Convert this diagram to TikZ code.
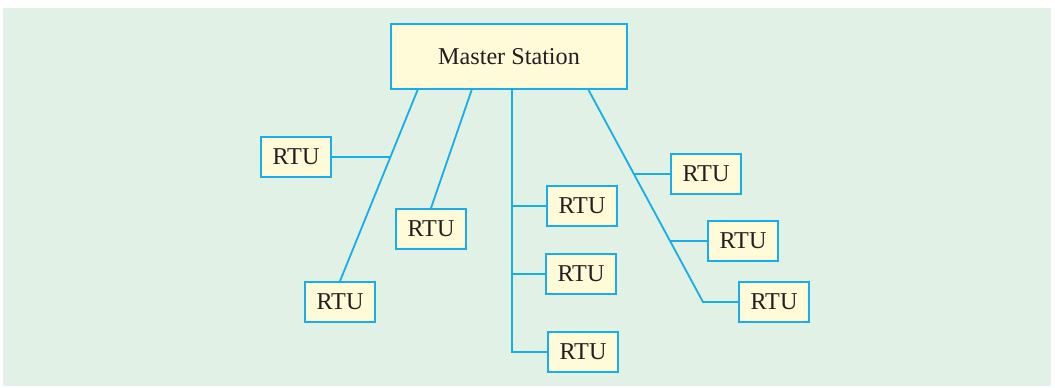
\documentclass[tikz,border=0pt]{standalone}
\usepackage{fontspec}
\setmainfont{Liberation Serif}
\usepackage{xcolor}
\definecolor{paleg}{HTML}{E2F1E6}
\definecolor{paley}{HTML}{FFFBD8}
\definecolor{cyanl}{HTML}{1AAEE8}
\definecolor{inkd}{HTML}{231F20}
\tikzset{
  unitbox/.style={draw=cyanl,line width=1.3pt,fill=paley,text=inkd,inner sep=0pt,
    minimum width=70*0.025cm,minimum height=40*0.025cm,
    font=\fontsize{17.2}{20}\selectfont},
  wire/.style={draw=cyanl,line width=1.3pt}
}
\begin{document}
\begin{tikzpicture}[x=0.025cm,y=-0.025cm]
        \useasboundingbox (0,0) rectangle (1055,388);
        \fill[paleg] (3,8) rectangle (1051,386);
        \node[unitbox,minimum width=236*0.025cm,minimum height=65*0.025cm] (master) at (509,56.5) {Master Station};
        \node[unitbox] (r1) at (296,157) {RTU};
        \node[unitbox] (r2) at (431,229) {RTU};
        \node[unitbox] (r3) at (340,302) {RTU};
        \node[unitbox] (r4) at (582,206) {RTU};
        \node[unitbox] (r5) at (581,274) {RTU};
        \node[unitbox] (r6) at (583,352) {RTU};
        \node[unitbox] (r7) at (706,174) {RTU};
        \node[unitbox] (r8) at (743,241) {RTU};
        \node[unitbox] (r9) at (774,302) {RTU};
        % feeders leaving the master station
        \coordinate (a0) at (418,89);
        \coordinate (b0) at (472,89);
        \coordinate (c0) at (512,89);
        \coordinate (d0) at (588,89);
        \coordinate (d1) at (703,302);
        \draw[wire] (a0) -- (r3.north);
        \draw[wire] (r1.east) -- (intersection of a0--r3.north and r1.west--r1.east);
        \draw[wire] (b0) -- (r2.north);
        \draw[wire] (c0) |- (r6.west);
        \draw[wire] (r4.west) -- (r4.west -| c0);
        \draw[wire] (r5.west) -- (r5.west -| c0);
        \draw[wire] (d0) -- (d1) -- (r9.west);
        \draw[wire] (r7.west) -- (intersection of d0--d1 and r7.west--r7.east);
        \draw[wire] (r8.west) -- (intersection of d0--d1 and r8.west--r8.east);
      \end{tikzpicture}
\end{document}
